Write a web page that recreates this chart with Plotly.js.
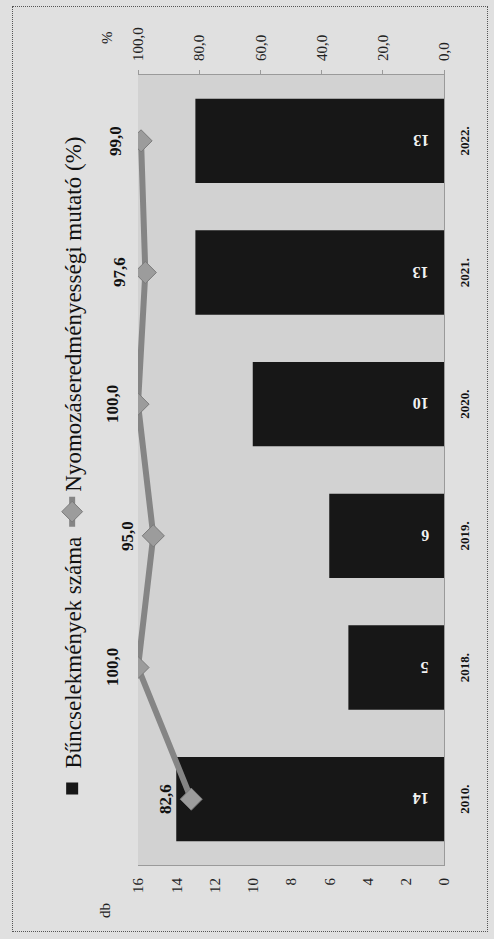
<!DOCTYPE html>
<html>
<head>
<meta charset="utf-8">
<script src="https://cdn.plot.ly/plotly-3.0.1.min.js"></script>
<style>
  html, body { margin: 0; padding: 0; width: 494px; height: 939px; overflow: hidden; background: #e0e0e0; }
  #chart {
    position: absolute; left: 0; top: 0; width: 939px; height: 494px;
    transform-origin: 0 0;
    transform: translateY(939px) rotate(-90deg);
  }
  #frame {
    position: absolute; left: 12px; top: 6px; width: 476px; height: 926px;
    border: 1px dotted #555; pointer-events: none; box-sizing: border-box;
  }
</style>
</head>
<body>
<div id="chart"></div>
<div id="frame"></div>
<script>
// ---- data ----
const categories = ['Y2010', 'Y2018', 'Y2019', 'Y2020', 'Y2021', 'Y2022'];
const tickLabels = ['2010.', '2018.', '2019.', '2020.', '2021.', '2022.'];
const crimes = [14, 5, 6, 10, 13, 13];                    // Bűncselekmények száma (db)
const clearance = [82.6, 100.0, 95.0, 100.0, 97.6, 99.0]; // Nyomozáseredményességi mutató (%)
const seriesNames = ['Bűncselekmények száma', 'Nyomozáseredményességi mutató (%)'];
const leftAxisTitle = 'db';
const rightAxisTitle = '%';

const FONT = "'Liberation Serif', 'Times New Roman', serif";

const barTrace = {
  type: 'bar',
  name: seriesNames[0],
  x: categories,
  y: crimes,
  yaxis: 'y',
  marker: { color: '#171717', line: { width: 0 } },
  hoverinfo: 'skip'
};

const lineTrace = {
  type: 'scatter',
  mode: 'lines+markers',
  name: seriesNames[1],
  x: categories,
  y: clearance,
  yaxis: 'y2',
  line: { color: '#858585', width: 6 },
  marker: { symbol: 'diamond', size: 17, color: '#9c9c9c', line: { color: '#7a7a7a', width: 1 } },
  hoverinfo: 'skip'
};

const fmt = v => v.toFixed(1).replace('.', ',');

const annotations = [];
clearance.forEach((v, i) => {
  annotations.push({
    x: categories[i], y: v, xref: 'x', yref: 'y2',
    text: fmt(v), showarrow: false, yanchor: 'bottom', yshift: 14,
    font: { family: FONT, size: 17, color: '#111', weight: 'bold' }
  });
});
crimes.forEach((v, i) => {
  annotations.push({
    x: categories[i], y: 0, xref: 'x', yref: 'y',
    text: String(v), showarrow: false, yanchor: 'bottom', yshift: 13, textangle: -90,
    font: { family: FONT, size: 16, color: '#f2f2f2', weight: 'bold' }
  });
});
annotations.push({
  xref: 'paper', yref: 'paper', x: -0.057, y: 1.108, xanchor: 'center', yanchor: 'middle',
  text: leftAxisTitle, showarrow: false, font: { family: FONT, size: 15, color: '#222' }
});
annotations.push({
  xref: 'paper', yref: 'paper', x: 1.048, y: 1.101, xanchor: 'center', yanchor: 'middle',
  text: rightAxisTitle, showarrow: false, font: { family: FONT, size: 15, color: '#222' }
});

const layout = {
  width: 939, height: 494,
  margin: { l: 74, r: 75, t: 138, b: 50 },
  paper_bgcolor: '#e0e0e0',
  plot_bgcolor: '#d2d2d2',
  separators: ', ',
  font: { family: FONT, color: '#111' },
  bargap: 0.36,
  showlegend: true,
  legend: {
    orientation: 'h', x: 0.5, xanchor: 'center', y: 1.215, yanchor: 'middle',
    font: { family: FONT, size: 23, color: '#111' },
    bgcolor: 'rgba(0,0,0,0)', itemwidth: 30
  },
  xaxis: {
    type: 'category', autotypenumbers: 'strict',
    categoryorder: 'array', categoryarray: categories,
    tickmode: 'array', tickvals: categories, ticktext: tickLabels,
    showgrid: false, zeroline: false,
    showline: true, linecolor: '#9a9a9a', linewidth: 1, ticks: '',
    tickfont: { family: FONT, size: 13, color: '#111', weight: 'bold' },
    ticklabelstandoff: 8
  },
  yaxis: {
    range: [0, 16], dtick: 2, showgrid: false, zeroline: false,
    showline: true, linecolor: '#9a9a9a', linewidth: 1, ticks: '',
    tickfont: { family: FONT, size: 15, color: '#222' },
    ticklabelstandoff: 9
  },
  yaxis2: {
    range: [0, 100], dtick: 20, tickformat: '.1f', overlaying: 'y', side: 'right',
    showgrid: false, zeroline: false, showline: true, linecolor: '#9a9a9a', linewidth: 1,
    ticks: 'outside', ticklen: 4, tickcolor: '#9a9a9a',
    tickfont: { family: FONT, size: 15, color: '#222' },
    ticklabelstandoff: 6
  },
  annotations: annotations
};

Plotly.newPlot('chart', [barTrace, lineTrace], layout, { displayModeBar: false, staticPlot: true });
</script>
</body>
</html>
